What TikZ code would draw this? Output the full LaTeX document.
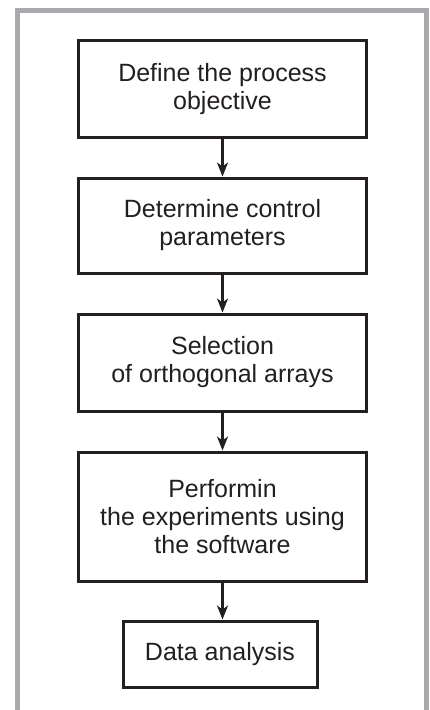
\documentclass[tikz,border=0pt]{standalone}
\usepackage{fontspec}
\setmainfont{Liberation Sans}
\usepackage{tikz}
\usetikzlibrary{positioning, arrows.meta}
\definecolor{framegray}{RGB}{167,169,172}
\definecolor{inkdark}{RGB}{35,31,32}
\tikzstyle{stepbox} = [rectangle, draw=inkdark, line width=3bp, align=center, text=inkdark, font=\fontsize{25bp}{28bp}\selectfont, minimum width=287bp, inner sep=0pt]
\tikzstyle{arrow} = [line width=2.2bp, draw=inkdark, -{Stealth[length=14bp,width=11bp,inset=4bp]}]

\begin{document}
\begin{tikzpicture}[x=1bp, y=-1bp, node distance=38bp]
  % Panel
  \useasboundingbox (0,0) rectangle (429,710);
  \fill[white] (0,0) rectangle (429,710);
  \draw[framegray, line width=5bp] (17.5,710) -- (17.5,10.5) -- (426.5,10.5) -- (426.5,710);

  % Steps
  \node[stepbox, minimum height=96bp] (define) at (222.5,89) {Define the process\\objective};
  \node[stepbox, minimum height=95bp, below=of define] (params) {Determine control\\parameters};
  \node[stepbox, minimum height=97bp, below=of params] (arrays) {Selection\\of orthogonal arrays};
  \node[stepbox, minimum height=129bp, below=of arrays] (experiments) {Performin\\the experiments using\\the software};
  \node[stepbox, minimum width=194bp, minimum height=66bp, below=37bp of experiments, xshift=-2.5bp] (analysis) {Data analysis};

  % Arrows
  \draw[arrow] (define) -- (params);
  \draw[arrow] (params) -- (arrays);
  \draw[arrow] (arrays) -- (experiments);
  \draw[arrow] (experiments.south) -- (experiments.south |- analysis.north);
\end{tikzpicture}
\end{document}
